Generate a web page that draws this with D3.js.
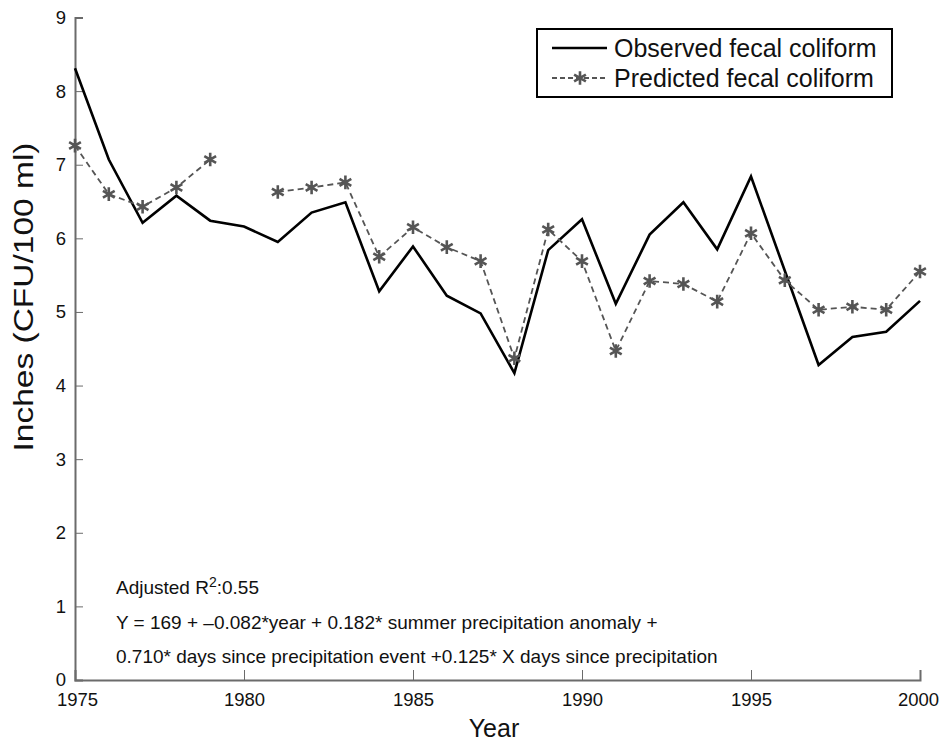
<!DOCTYPE html>
<html><head><meta charset="utf-8">
<script src="https://cdn.jsdelivr.net/npm/d3@7"></script>
<style>body{margin:0;background:#fff}svg{display:block}text{font-family:"Liberation Sans",Arial,sans-serif}</style>
</head><body><svg id="c" width="940" height="742"></svg>
<script>
const years = [1975,1976,1977,1978,1979,1980,1981,1982,1983,1984,1985,1986,1987,1988,1989,1990,1991,1992,1993,1994,1995,1996,1997,1998,1999,2000];
const observed = [8.31,7.07,6.21,6.58,6.24,6.16,5.95,6.35,6.49,5.28,5.89,5.22,4.98,4.17,5.84,6.26,5.11,6.05,6.49,5.85,6.84,5.56,4.28,4.66,4.73,5.15];
const predicted = [7.26,6.60,6.43,6.69,7.07,null,6.63,6.69,6.76,5.75,6.15,5.88,5.69,4.37,6.12,5.69,4.47,5.42,5.38,5.14,6.07,5.43,5.03,5.07,5.03,5.55];
const xTicks = [1975,1980,1985,1990,1995,2000];
const yTicks = [0,1,2,3,4,5,6,7,8,9];
const seriesNames = ["Observed fecal coliform","Predicted fecal coliform"];
const annotations = ["Adjusted R", "Y = 169 + \u20130.082*year + 0.182* summer precipitation anomaly +", "0.710* days since precipitation event +0.125* X days since precipitation"];

const svg = d3.select("#c");
const x = d3.scaleLinear().domain([1975,2000]).range([75,920]);
const y = d3.scaleLinear().domain([0,9]).range([680,17.5]);
const axisCol = "#6b6b6b";

// x axis
const gx = svg.append("g").attr("transform","translate(0,680)")
  .call(d3.axisBottom(x).tickValues(xTicks).tickFormat(d3.format("d")).tickSize(-10).tickPadding(13));
gx.select(".domain").attr("stroke",axisCol).attr("stroke-width",2);
gx.selectAll(".tick line").attr("stroke",axisCol).attr("stroke-width",1);
gx.selectAll(".tick text").attr("font-size",18.5).attr("fill","#111")
  .attr("dx",d=>d===2000?-2:(d===1975?2:0));

// y axis
const gy = svg.append("g").attr("transform","translate(75,0)")
  .call(d3.axisLeft(y).tickValues(yTicks).tickSize(-8).tickPadding(9));
gy.select(".domain").attr("stroke",axisCol).attr("stroke-width",2);
gy.selectAll(".tick line").attr("stroke",axisCol).attr("stroke-width",1);
gy.selectAll(".tick text").attr("font-size",18.5).attr("fill","#111");

// axis titles
svg.append("text").attr("x",494).attr("y",737).attr("text-anchor","middle").attr("font-size",25).attr("fill","#111").text("Year");
svg.append("text").attr("transform","translate(33,297) rotate(-90)").attr("text-anchor","middle").attr("font-size",27)
  .attr("textLength",309).attr("lengthAdjust","spacingAndGlyphs").attr("fill","#111").text("Inches (CFU/100 ml)");

// lines
const lineObs = d3.line().x((d,i)=>x(years[i])).y(d=>y(d));
svg.append("path").datum(observed).attr("d",lineObs).attr("fill","none").attr("stroke","#000").attr("stroke-width",2.6).attr("stroke-linejoin","miter");

const linePred = d3.line().defined(d=>d!==null).x((d,i)=>x(years[i])).y(d=>y(d));
svg.append("path").datum(predicted).attr("d",linePred).attr("fill","none").attr("stroke","#555").attr("stroke-width",1.8).attr("stroke-dasharray","6,4");

const star = d3.symbol().type(d3.symbolAsterisk).size(130);
svg.append("g").selectAll("path").data(years.map((yr,i)=>({yr,v:predicted[i]})).filter(d=>d.v!==null))
  .join("path").attr("d",star).attr("transform",d=>`translate(${x(d.yr)},${y(d.v)})`)
  .attr("fill","none").attr("stroke","#555").attr("stroke-width",2.6);

// legend
const lg = svg.append("g");
lg.append("rect").attr("x",537).attr("y",29).attr("width",355).attr("height",68).attr("fill","#fff").attr("stroke","#000").attr("stroke-width",2);
lg.append("line").attr("x1",552).attr("x2",607).attr("y1",48).attr("y2",48).attr("stroke","#000").attr("stroke-width",2.6);
lg.append("text").attr("x",614).attr("y",57).attr("font-size",25).attr("fill","#111").text(seriesNames[0]);
lg.append("line").attr("x1",552).attr("x2",607).attr("y1",78).attr("y2",78).attr("stroke","#555").attr("stroke-width",1.8).attr("stroke-dasharray","5,3");
lg.append("path").attr("d",star).attr("transform","translate(580,78)").attr("fill","none").attr("stroke","#555").attr("stroke-width",2.6);
lg.append("text").attr("x",614).attr("y",87).attr("font-size",25).attr("fill","#111").text(seriesNames[1]);

// annotations
const t1 = svg.append("text").attr("x",116).attr("y",594).attr("font-size",19).attr("fill","#111");
t1.append("tspan").text(annotations[0]);
t1.append("tspan").attr("dy",-7).attr("font-size",14).text("2");
t1.append("tspan").attr("dy",7).text(":0.55");
svg.append("text").attr("x",116).attr("y",629).attr("font-size",19).attr("fill","#111").text(annotations[1]);
svg.append("text").attr("x",116).attr("y",663).attr("font-size",19).attr("fill","#111").text(annotations[2]);
</script></body></html>
